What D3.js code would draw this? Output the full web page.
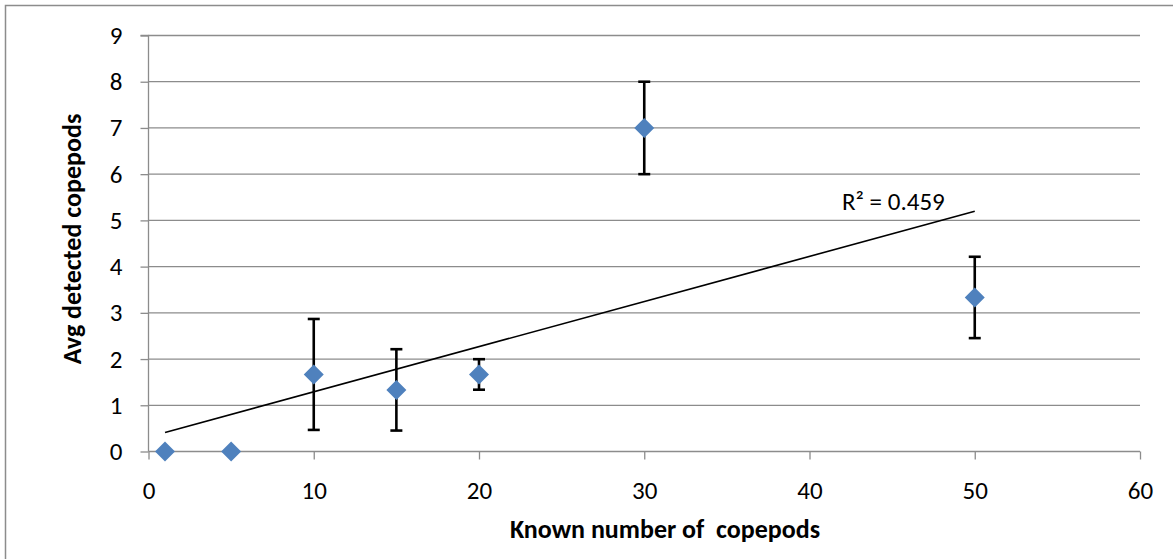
<!DOCTYPE html>
<html><head><meta charset="utf-8">
<script src="https://cdn.jsdelivr.net/npm/d3@7"></script>
<style>body{margin:0;background:#fff}svg{display:block}text{font-family:Carlito,Calibri,Lato,"Open Sans",sans-serif}</style>
</head><body>
<svg id="c" width="1173" height="559"></svg>
<script>
const knownCounts = [1, 5, 10, 15, 20, 30, 50];
const avgDetected = [0, 0, 1.667, 1.333, 1.667, 7, 3.333];
const errPlus = [0, 0, 1.2, 0.88, 0.33, 1, 0.88];
const errMinus = [0, 0, 1.2, 0.88, 0.33, 1, 0.88];
const xTicks = [0, 10, 20, 30, 40, 50, 60];
const yTicks = [0, 1, 2, 3, 4, 5, 6, 7, 8, 9];
const xTitle = "Known number of \u00a0copepods";
const yTitle = "Avg detected copepods";

const FS = 25;
const svg = d3.select("#c");
const x = d3.scaleLinear().domain([0, 60]).range([148.5, 1140]);
const y = d3.scaleLinear().domain([0, 9]).range([451.5, 35.5]);

// outer border
svg.append("path").attr("d", "M5.5,559 V5.5 H1173").attr("fill", "none").attr("stroke", "#8c8c8c").attr("stroke-width", 1.5);

// gridlines
svg.append("g").selectAll("line").data(yTicks.filter(d => d > 0)).join("line")
  .attr("x1", x(0)).attr("x2", x(60)).attr("y1", d => y(d)).attr("y2", d => y(d))
  .attr("stroke", "#8c8c8c").attr("stroke-width", 1.3);

// y axis
const ya = svg.append("g").attr("transform", `translate(${x(0)},0)`)
  .call(d3.axisLeft(y).tickValues(yTicks).tickSize(8).tickPadding(18).tickFormat(d3.format("d")));
ya.select(".domain").attr("stroke", "#8c8c8c").attr("stroke-width", 1.3).attr("d", `M-8,${y(9)}H0V${y(0)}`);
ya.selectAll(".tick line").attr("stroke", "#8c8c8c").attr("stroke-width", 1.3);
ya.selectAll(".tick text").attr("font-size", FS).attr("fill", "#000").attr("font-family", "Carlito,Calibri,Lato,sans-serif");

// x axis
const xa = svg.append("g").attr("transform", `translate(0,${y(0)})`)
  .call(d3.axisBottom(x).tickValues(xTicks).tickSize(8).tickPadding(22).tickFormat(d3.format("d")));
xa.select(".domain").attr("stroke", "#8c8c8c").attr("stroke-width", 1.3).attr("d", `M${x(0)},0H${x(60)}`);
xa.selectAll(".tick line").attr("stroke", "#8c8c8c").attr("stroke-width", 1.3);
xa.selectAll(".tick text").attr("font-size", FS).attr("fill", "#000").attr("font-family", "Carlito,Calibri,Lato,sans-serif");

// trendline (least squares)
const n = knownCounts.length;
const mx = d3.mean(knownCounts), my = d3.mean(avgDetected);
let sxy = 0, sxx = 0, syy = 0;
for (let i = 0; i < n; i++) {
  sxy += (knownCounts[i] - mx) * (avgDetected[i] - my);
  sxx += (knownCounts[i] - mx) ** 2;
  syy += (avgDetected[i] - my) ** 2;
}
const slope = sxy / sxx, icpt = my - slope * mx;
const r2 = sxy * sxy / (sxx * syy);
const x0 = d3.min(knownCounts), x1 = d3.max(knownCounts);
svg.append("line").attr("x1", x(x0)).attr("y1", y(icpt + slope * x0))
  .attr("x2", x(x1)).attr("y2", y(icpt + slope * x1)).attr("stroke", "#000").attr("stroke-width", 1.6);
svg.append("text").attr("x", 842).attr("y", 210).attr("font-size", FS).attr("fill", "#000")
  .text("R\u00b2 = " + r2.toFixed(3));

// error bars
const pts = knownCounts.map((k, i) => ({k, v: avgDetected[i], p: errPlus[i], m: errMinus[i]}));
const eb = svg.append("g").selectAll("g").data(pts.filter(d => d.p > 0 || d.m > 0)).join("g");
eb.append("line").attr("x1", d => x(d.k)).attr("x2", d => x(d.k))
  .attr("y1", d => y(d.v + d.p)).attr("y2", d => y(d.v - d.m)).attr("stroke", "#000").attr("stroke-width", 2.6);
eb.append("line").attr("x1", d => x(d.k) - 6).attr("x2", d => x(d.k) + 6)
  .attr("y1", d => y(d.v + d.p)).attr("y2", d => y(d.v + d.p)).attr("stroke", "#000").attr("stroke-width", 2.6);
eb.append("line").attr("x1", d => x(d.k) - 6).attr("x2", d => x(d.k) + 6)
  .attr("y1", d => y(d.v - d.m)).attr("y2", d => y(d.v - d.m)).attr("stroke", "#000").attr("stroke-width", 2.6);

// markers
svg.append("g").selectAll("path").data(pts).join("path")
  .attr("d", "M0,-10L10,0L0,10L-10,0Z")
  .attr("transform", d => `translate(${x(d.k)},${y(d.v)})`)
  .attr("fill", "#4f81bd");

// axis titles
svg.append("text").attr("x", 665).attr("y", 538).attr("text-anchor", "middle")
  .attr("font-size", 26).attr("font-weight", "bold").attr("fill", "#000").text(xTitle);
svg.append("text").attr("transform", "translate(81,239) rotate(-90)").attr("text-anchor", "middle")
  .attr("font-size", 26).attr("font-weight", "bold").attr("fill", "#000").text(yTitle);
</script>
</body></html>
